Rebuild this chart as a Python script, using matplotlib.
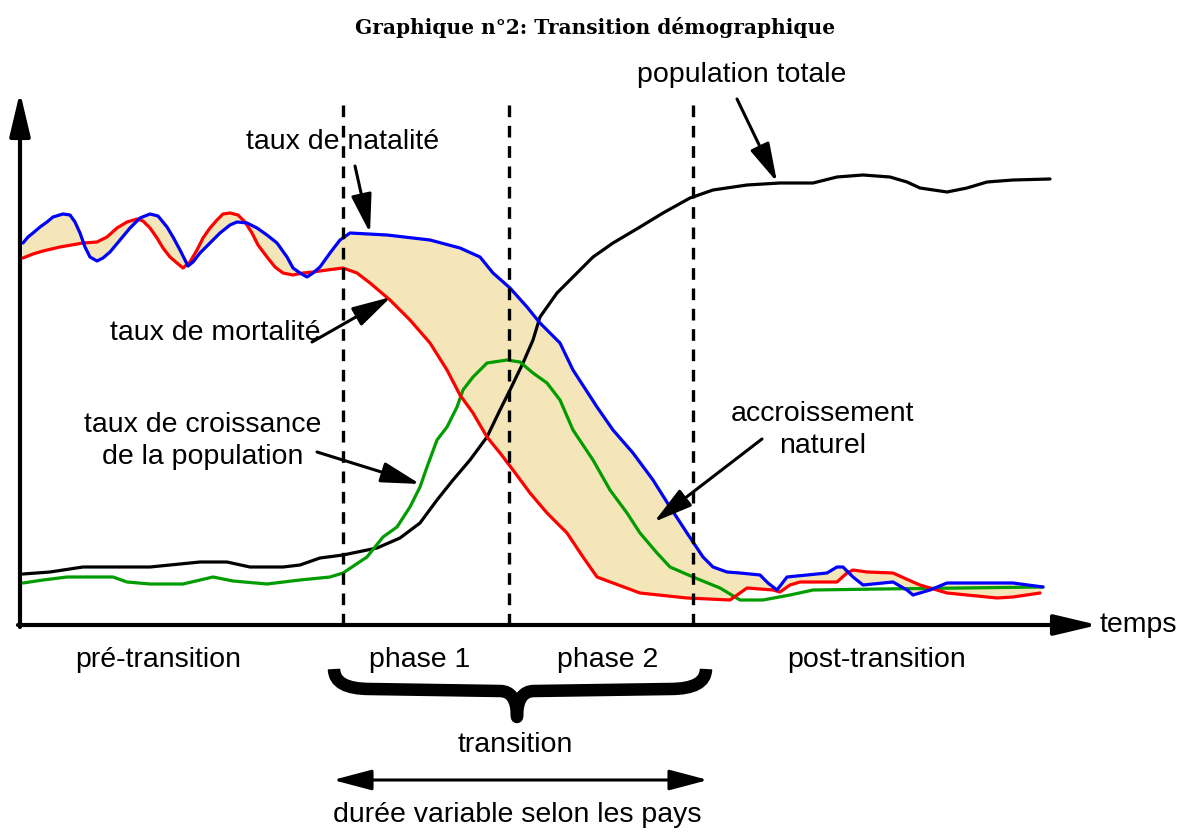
"""Graphique n°2 : transition démographique (schéma)."""

import matplotlib

matplotlib.use("Agg")
import matplotlib.pyplot as plt
import numpy as np
from matplotlib.patches import PathPatch
from matplotlib.path import Path

natalite_t = [3, 8, 13, 20, 27, 33, 43, 50, 55, 60, 65, 70, 77, 83, 90, 100, 110,
              120, 130, 138, 147, 153, 160, 165, 168, 173, 180, 190, 200, 210, 217,
              227, 237, 247, 257, 267, 273, 280, 287, 293, 300, 310, 320, 330, 367,
              410, 440, 460, 473, 490, 507, 520, 540, 553, 577, 593, 613, 633, 650,
              667, 683, 693, 707, 720, 740, 748, 757, 767, 807, 817, 823, 833, 843,
              873, 887, 893, 910, 927, 993, 1023]
natalite_v = [382, 388, 392, 398, 403, 408, 411, 410, 403, 392, 378, 368, 364, 367,
              373, 385, 397, 407, 411, 409, 398, 388, 375, 365, 359, 363, 372, 382,
              392, 400, 403, 402, 397, 390, 382, 368, 357, 352, 348, 352, 358, 372,
              385, 392, 390, 385, 377, 368, 352, 337, 318, 302, 282, 255, 218, 195,
              172, 145, 118, 92, 68, 58, 53, 52, 50, 42, 35, 48, 52, 58, 58, 48, 40,
              43, 35, 30, 35, 42, 42, 38]

mortalite_t = [3, 13, 23, 40, 63, 77, 87, 97, 107, 117, 123, 130, 137, 143, 150, 157,
               163, 170, 177, 183, 190, 197, 203, 210, 218, 225, 232, 238, 247, 255,
               263, 273, 283, 293, 307, 323, 337, 350, 370, 390, 410, 427, 440, 453,
               467, 480, 493, 510, 527, 547, 563, 577, 593, 620, 667, 710, 720, 727,
               753, 760, 770, 780, 817, 827, 833, 847, 873, 893, 900, 927, 977, 993,
               1020]
mortalite_v = [367, 371, 374, 378, 382, 383, 388, 397, 403, 406, 404, 397, 387, 377,
               368, 362, 357, 363, 375, 387, 397, 405, 411, 412, 410, 403, 392, 380,
               368, 358, 352, 350, 352, 353, 355, 357, 352, 342, 325, 305, 282, 255,
               230, 212, 188, 172, 155, 132, 112, 92, 68, 48, 42, 32, 27, 25, 32, 37,
               35, 33, 40, 43, 43, 52, 55, 53, 52, 43, 40, 32, 27, 28, 32]

croissance_t = [3, 23, 47, 93, 107, 130, 163, 193, 213, 247, 280, 310, 323, 347, 363,
                377, 390, 400, 407, 417, 427, 437, 443, 453, 467, 487, 500, 513, 527,
                540, 553, 573, 590, 607, 620, 637, 650, 673, 700, 720, 743, 770, 793,
                860, 1023]
croissance_v = [42, 45, 48, 48, 43, 41, 41, 48, 44, 41, 45, 48, 52, 68, 88, 98, 118,
                138, 158, 185, 198, 218, 235, 248, 262, 265, 263, 252, 242, 225, 195,
                165, 135, 112, 92, 72, 58, 48, 37, 25, 25, 30, 35, 36, 38]

population_t = [3, 30, 63, 130, 180, 207, 230, 263, 280, 300, 323, 357, 380, 400, 417,
                433, 450, 467, 480, 490, 503, 513, 520, 537, 553, 573, 593, 620, 643,
                670, 693, 727, 760, 793, 817, 843, 870, 887, 900, 927, 947, 967, 993,
                1030]
population_v = [51, 53, 58, 58, 63, 63, 58, 58, 60, 67, 70, 77, 87, 102, 125, 145,
                165, 188, 215, 235, 262, 285, 308, 332, 348, 368, 382, 398, 412, 427,
                435, 440, 442, 442, 448, 450, 448, 443, 437, 433, 437, 443, 445, 446]

limites_phases = [323, 489, 673]

phases = ["pré-transition", "phase 1", "phase 2", "post-transition"]
phases_t = [138, 400, 588, 857]

FONT = ["Liberation Sans Narrow", "Liberation Sans", "DejaVu Sans"]
FS = 20.5

fig = plt.figure(figsize=(11.9, 8.32), dpi=100)
ax = fig.add_axes([0, 0, 1, 1])
ax.set_xlim(-20, 1170)
ax.set_ylim(-207, 625)
ax.axis("off")

# accroissement naturel : surface entre natalité et mortalité
ax.fill(np.r_[natalite_t, mortalite_t[::-1]], np.r_[natalite_v, mortalite_v[::-1]],
        color="#f4e6b8", lw=0, zorder=1)

line_kw = dict(lw=2.3, solid_joinstyle="round", solid_capstyle="round")
ax.plot(population_t, population_v, color="black", zorder=3, **line_kw)
ax.plot(croissance_t, croissance_v, color="#009c00", zorder=4, **line_kw)
ax.plot(mortalite_t, mortalite_v, color="#ff0000", zorder=4, **line_kw)
ax.plot(natalite_t, natalite_v, color="#0000ff", zorder=5, **line_kw)

for t in limites_phases:
    ax.plot([t, t], [0, 525], color="black", lw=2.4, ls=(0, (3.5, 2.6)), zorder=6)

# axes avec flèches
head = dict(arrowstyle="-|>,head_length=1.9,head_width=0.45", color="black",
            lw=3, mutation_scale=14, shrinkA=0, shrinkB=0)
ax.annotate("", xy=(0, 533), xytext=(0, -2), arrowprops=head, zorder=7)
ax.annotate("", xy=(1078, 0), xytext=(-2, 0), arrowprops=head, zorder=7)
ax.text(1080, 0, "temps", family=FONT, fontsize=FS, ha="left", va="center")

pointer = dict(arrowstyle="-|>,head_length=1.7,head_width=0.45", color="black",
               lw=2.2, mutation_scale=14, shrinkA=0, shrinkB=0)
notes = [
    ("taux de natalité", (323, 483), (335, 459), (350, 392)),
    ("population totale", (722, 550), (717, 526), (757, 443)),
    ("taux de mortalité", (195, 292), (292, 283), (371, 328)),
    ("taux de croissance\nde la population", (183, 184), (297, 173), (400, 141)),
    ("accroissement\nnaturel", (803, 195), (742, 186), (634, 103)),
]
for label, pos, tail, tip in notes:
    ax.text(*pos, label, family=FONT, fontsize=FS, ha="center", va="center",
            linespacing=1.3, zorder=8)
    ax.annotate("", xy=tip, xytext=tail, arrowprops=pointer, zorder=8)

for label, t in zip(phases, phases_t):
    ax.text(t, -35, label, family=FONT, fontsize=FS, ha="center", va="center")

# accolade « transition »
brace = Path(
    [(314, -44), (314, -64), (350, -64), (480, -66), (497, -66), (497, -92),
     (497, -66), (514, -66), (650, -64), (686, -64), (686, -44)],
    [Path.MOVETO, Path.CURVE3, Path.CURVE3, Path.LINETO, Path.CURVE3, Path.CURVE3,
     Path.CURVE3, Path.CURVE3, Path.LINETO, Path.CURVE3, Path.CURVE3],
)
ax.add_patch(PathPatch(brace, fill=False, lw=9, color="black", capstyle="butt",
                       joinstyle="round"))
ax.text(495, -120, "transition", family=FONT, fontsize=FS, ha="center", va="center")

both = dict(arrowstyle="<|-|>,head_length=1.7,head_width=0.45", color="black",
            lw=2.2, mutation_scale=14, shrinkA=0, shrinkB=0)
ax.annotate("", xy=(688, -155), xytext=(313, -155), arrowprops=both)
ax.text(497, -190, "durée variable selon les pays", family=FONT, fontsize=FS,
        ha="center", va="center")

fig.text(0.5, 1 - 27 / 832, "Graphique n°2: Transition démographique",
         family=["DejaVu Serif"], fontweight="bold", fontsize=14.5,
         ha="center", va="center")

fig.savefig("out.png", dpi=100)
plt.close(fig)
